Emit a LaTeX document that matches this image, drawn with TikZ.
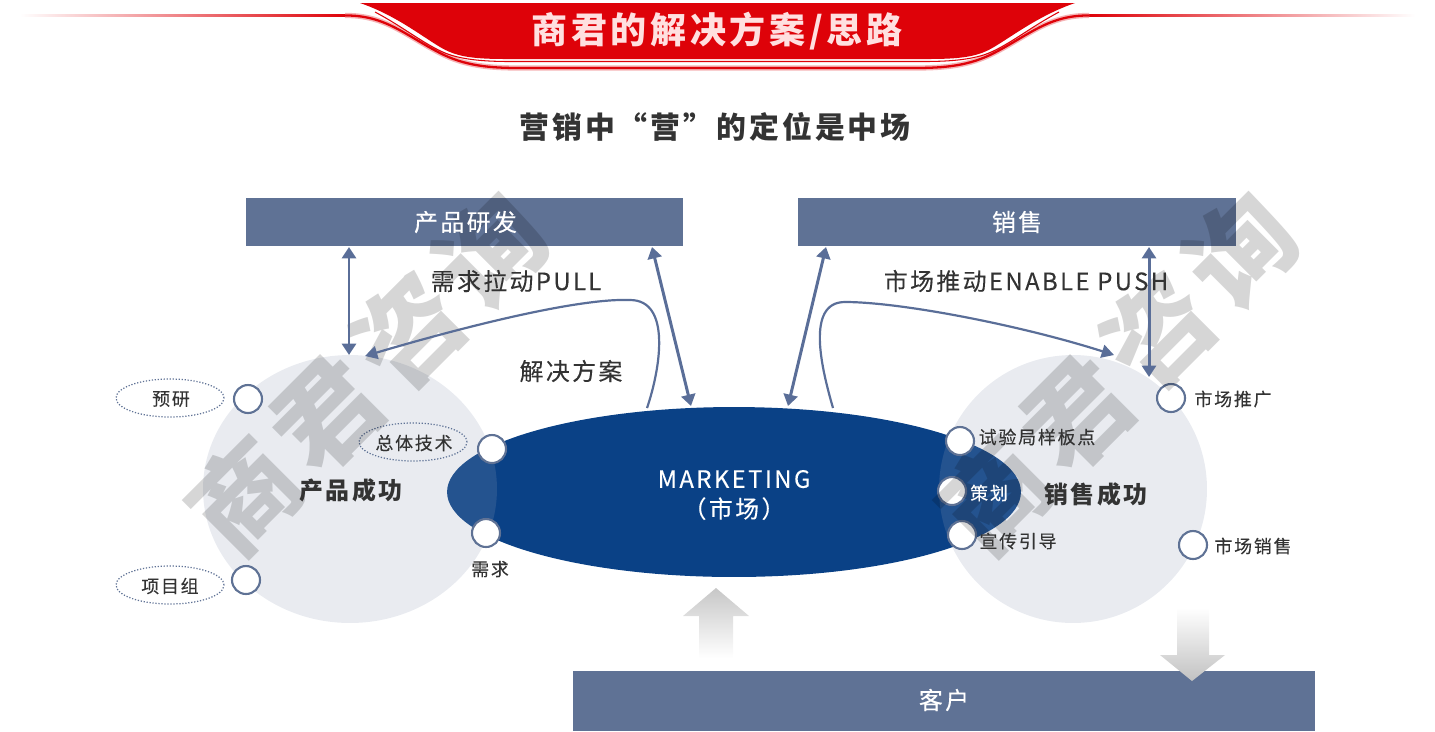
\documentclass[tikz,border=0pt]{standalone}
\usepackage{fontspec}
\setmainfont[LetterSpace=10,UprightFeatures={FakeBold=0.2}]{Noto Sans CJK SC}
\usetikzlibrary{shapes.geometric,arrows.meta}
\definecolor{slateblue}{HTML}{5F7295}
\definecolor{arrowblue}{HTML}{5A6E98}
\definecolor{navyblue}{HTML}{0A4186}
\definecolor{bannerred}{HTML}{DE0209}
\definecolor{textgray}{HTML}{333333}
\tikzset{
    barbox/.style={fill=slateblue,text=white,inner sep=0pt,font=\fontsize{13.6}{16}\selectfont},
    dot/.style={circle,draw=slateblue,fill=white,line width=1.2pt,minimum size=0.56cm,inner sep=0pt},
    tagring/.style={ellipse,draw=slateblue,densely dotted,line width=0.7pt,minimum width=2.16cm,minimum height=0.76cm,inner sep=0pt},
    bigtext/.style={text=textgray,font=\fontsize{13.6}{16}\selectfont},
    boldtext/.style={text=textgray,font=\fontsize{13.6}{16}\selectfont\bfseries},
    smalltext/.style={text=textgray,font=\fontsize{10.2}{12}\selectfont},
    biarrow/.style={arrowblue,line width=1.7pt,{Triangle[width=8pt,length=6.5pt]}-{Triangle[width=8pt,length=6.5pt]}},
    curvearrow/.style={arrowblue,line width=1.25pt,-{Triangle[width=7.5pt,length=7pt]}},
    stamp/.style={text=black,text opacity=0.16,rotate=45,font=\fontsize{60}{60}\selectfont\bfseries}
}
\begin{document}
\begin{tikzpicture}[x=0.02cm,y=-0.02cm]
    \useasboundingbox (0,0) rectangle (1435,731);
    % banner
    \shade[left color=white,right color=bannerred] (20,14.5) rectangle (345,16.5);
    \shade[left color=bannerred,right color=white] (1089,14.5) rectangle (1415,16.5);
    \draw[bannerred!30,line width=3pt] (345,15.5) .. controls (385,15) and (405,35) .. (440,53) .. controls (465,66) and (490,68) .. (520,68) -- (914,68) .. controls (944,68) and (969,66) .. (994,53) .. controls (1029,35) and (1049,15) .. (1089,15.5);
    \draw[bannerred,line width=1.3pt] (345,15.5) .. controls (385,15) and (405,35) .. (440,53) .. controls (465,66) and (490,68) .. (520,68) -- (914,68) .. controls (944,68) and (969,66) .. (994,53) .. controls (1029,35) and (1049,15) .. (1089,15.5);
    \draw[bannerred,line width=0.6pt] (375,12) .. controls (405,28) and (425,45) .. (445,53) .. controls (460,59) and (480,61.5) .. (510,61.5) -- (924,61.5) .. controls (954,61.5) and (974,59) .. (989,53) .. controls (1009,45) and (1029,28) .. (1059,12);
    \fill[bannerred] (360,3) .. controls (395,15) and (420,35) .. (440,47) .. controls (455,56) and (470,59) .. (505,59) -- (929,59) .. controls (964,59) and (979,56) .. (994,47) .. controls (1014,35) and (1040,15) .. (1075,3) -- cycle;
    \node[text=red!12!white,font=\fontsize{20.5}{23}\selectfont\bfseries] (banner) at (717,31) {商君的解决方案/思路};
    \node[text=textgray,font=\fontsize{17}{20}\selectfont\bfseries] (headline) at (715,127) {营销中“营”的定位是中场};
    % bars
    \node[barbox,minimum width=8.74cm,minimum height=0.96cm] (research) at (464.5,222) {};
    \node[barbox,minimum width=8.76cm,minimum height=0.96cm] (sales) at (1017,222) {};
    \node[barbox,minimum width=14.84cm,minimum height=1.2cm] (customer) at (944,701) {};
    % big shapes
    \node[ellipse,fill=navyblue,minimum width=11.48cm,minimum height=3.4cm,inner sep=0pt] (market) at (734,492) {};
    \node[ellipse,fill=slateblue!70!white,fill opacity=0.2,minimum width=5.88cm,minimum height=5.36cm,inner sep=0pt] (prodcircle) at (350,489) {};
    \node[circle,fill=slateblue!70!white,fill opacity=0.2,minimum size=5.36cm,inner sep=0pt] (salecircle) at (1073,489) {};
    % hollow arrows
    \shade[top color=black!22,bottom color=white] (716,588) -- (749,616) -- (733,616) -- (733,658) -- (699,658) -- (699,616) -- (683,616) -- cycle;
    \shade[top color=white,bottom color=black!24] (1177,608) -- (1209,608) -- (1209,655) -- (1225,655) -- (1192,681) -- (1160,655) -- (1177,655) -- cycle;
    % small rings
    \node[dot] (d1) at (248,399) {};
    \node[dot] (d2) at (492,449) {};
    \node[dot] (d3) at (486,533) {};
    \node[dot] (d4) at (246,580) {};
    \node[dot] (d5) at (1171,398) {};
    \node[dot] (d6) at (960,441) {};
    \node[dot] (d7) at (952,491) {};
    \node[dot] (d8) at (962,535) {};
    \node[dot] (d9) at (1193,545) {};
    \node[tagring] (t1) at (170,398) {};
    \node[tagring] (t2) at (170,585) {};
    \node[tagring] (t3) at (413,442) {};
    % watermark
    \node[stamp] (mark1) at (367,373) {商君咨询};
    \node[stamp] (mark2) at (1117,373) {商君咨询};
    % arrows
    \coordinate (a1) at (349,247);
    \coordinate (a2) at (349,355);
    \coordinate (b1) at (652,247);
    \coordinate (b2) at (691,406);
    \coordinate (c1) at (826,247);
    \coordinate (c2) at (788,406);
    \coordinate (e1) at (1149,247);
    \coordinate (e2) at (1149,377);
    \coordinate (f1) at (647,408);
    \coordinate (f2) at (365,356);
    \coordinate (g1) at (833,408);
    \coordinate (g2) at (1114,355);
    \draw[biarrow] (a1) -- (a2);
    \draw[biarrow] (b1) -- (b2);
    \draw[biarrow] (c1) -- (c2);
    \draw[biarrow] (e1) -- (e2);
    \draw[curvearrow] (f1) .. controls (660,370) and (672,300) .. (630,300) .. controls (580,298) and (470,325) .. (f2);
    \draw[curvearrow] (g1) .. controls (822,370) and (805,302) .. (845,302) .. controls (900,302) and (1020,325) .. (g2);
    % labels
    \node[text=white,font=\fontsize{13.6}{16}\selectfont] (researchlabel) at (465.5,222) {产品研发};
    \node[text=white,font=\fontsize{13.6}{16}\selectfont] (saleslabel) at (1017,222) {销售};
    \node[text=white,font=\fontsize{13.6}{16}\selectfont] (customerlabel) at (944,700) {客户};
    \node[bigtext] (pull) at (516,281) {需求拉动PULL};
    \node[bigtext] (push) at (1026,281) {市场推动ENABLE PUSH};
    \node[bigtext] (solve) at (571,371) {解决方案};
    \node[text=white,font=\fontsize{13.6}{17}\selectfont,align=center] (marklabel) at (734,495) {MARKETING\\（市场）};
    \node[boldtext] (prodok) at (351,490) {产品成功};
    \node[boldtext] (saleok) at (1096,494) {销售成功};
    \node[smalltext] (l1) at (171,399) {预研};
    \node[smalltext] (l2) at (170,586) {项目组};
    \node[smalltext] (l3) at (414,443) {总体技术};
    \node[smalltext] (l4) at (490,569) {需求};
    \node[smalltext] (l5) at (1233,399) {市场推广};
    \node[smalltext] (l6) at (1253,546) {市场销售};
    \node[smalltext] (l7) at (1037,437) {试验局样板点};
    \node[smalltext,text=white] (l8) at (989,493) {策划};
    \node[smalltext] (l9) at (1018,541) {宣传引导};
\end{tikzpicture}
\end{document}
